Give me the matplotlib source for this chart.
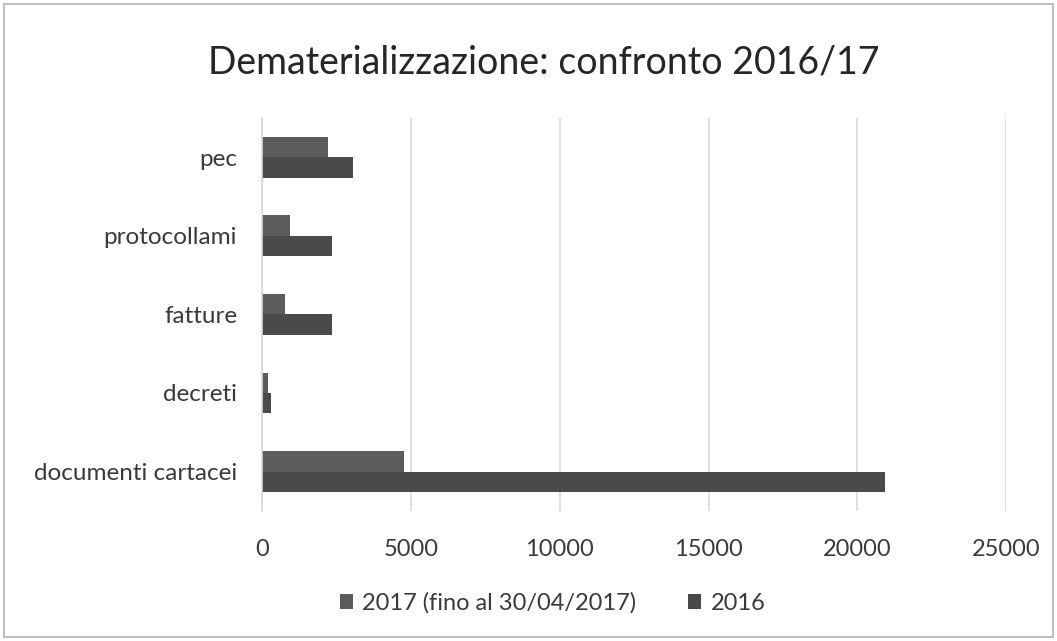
import numpy as np
import matplotlib.pyplot as plt
from matplotlib.patches import Rectangle

plt.rcParams['font.family'] = ['Lato', 'DejaVu Sans']

categories = ['documenti cartacei', 'decreti', 'fatture', 'protocollami', 'pec']
v2017 = [4750, 190, 780, 950, 2200]
v2016 = [20920, 295, 2360, 2360, 3050]
series = ['2017 (fino al 30/04/2017)', '2016']
xticks = [0, 5000, 10000, 15000, 20000, 25000]

fig = plt.figure(figsize=(10.57, 6.41), dpi=100)
ax = fig.add_axes([0.248, 0.203, 0.704, 0.613])

y = np.arange(len(categories))
h = 0.26
ax.barh(y + h/2, v2017, height=h, color='#5c5c5c', label=series[0])
ax.barh(y - h/2, v2016, height=h, color='#4a4a4a', label=series[1])

ax.set_yticks(y)
ax.set_yticklabels(categories, fontsize=17.5, color='#3a3a3a')
ax.set_xticks(xticks)
ax.set_xticklabels([str(t) for t in xticks], fontsize=17, color='#3a3a3a')
ax.set_xlim(0, 25000)
ax.set_ylim(-0.5, len(categories) - 0.5)
ax.tick_params(length=0)
ax.tick_params(axis='x', pad=20)
ax.tick_params(axis='y', pad=18)
ax.grid(axis='x', color='#d9d9d9', lw=1.2)
ax.set_axisbelow(True)
for s in ['top', 'right', 'bottom']:
    ax.spines[s].set_visible(False)
ax.spines['left'].set_color('#d9d9d9')
ax.spines['left'].set_linewidth(1.2)

fig.text(0.514, 0.903, 'Dematerializzazione: confronto 2016/17', ha='center', va='center',
         fontsize=27, color='#262626')

fig.legend(loc='center', bbox_to_anchor=(0.523, 0.059), ncol=2, frameon=False,
           fontsize=17, handlelength=0.55, handleheight=0.55, columnspacing=2.2,
           handletextpad=0.4, labelcolor='#3a3a3a')

fig.patches.append(Rectangle((0.004, 0.006), 0.992, 0.988, transform=fig.transFigure,
                             fill=False, edgecolor='#bfbfbf', lw=1.5))

fig.savefig('out.png', dpi=100)
